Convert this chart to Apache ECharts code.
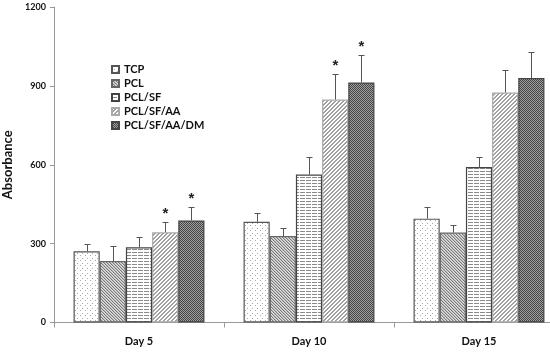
<!DOCTYPE html>
<html><head><meta charset="utf-8">
<script src="https://cdn.jsdelivr.net/npm/echarts@6/dist/echarts.min.js"></script>
<style>html,body{margin:0;padding:0;background:#fff}#c{width:550px;height:352px}</style>
</head><body><div id="c"></div>
<script>
const categories = ['Day 5', 'Day 10', 'Day 15'];
const seriesNames = ['TCP', 'PCL', 'PCL/SF', 'PCL/SF/AA', 'PCL/SF/AA/DM'];
const tcp = [271, 383, 395];
const pcl = [234, 329, 342];
const pclSf = [286, 563, 591];
const pclSfAa = [343, 848, 875];
const pclSfAaDm = [388, 913, 930];
const tcpErr = [27, 33, 44];
const pclErr = [56, 32, 28];
const pclSfErr = [41, 66, 40];
const pclSfAaErr = [38, 97, 85];
const pclSfAaDmErr = [51, 104, 99];
const tcpSig = [false, false, false];
const pclSig = [false, false, false];
const pclSfSig = [false, false, false];
const pclSfAaSig = [true, true, false];
const pclSfAaDmSig = [true, true, false];
const yTicks = [0, 300, 600, 900, 1200];

const values = [tcp, pcl, pclSf, pclSfAa, pclSfAaDm];
const errs = [tcpErr, pclErr, pclSfErr, pclSfAaErr, pclSfAaDmErr];
const sigs = [tcpSig, pclSig, pclSfSig, pclSfAaSig, pclSfAaDmSig];

function tile(w, h, bg, draw) {
  const c = document.createElement('canvas');
  c.width = w; c.height = h;
  const ctx = c.getContext('2d');
  ctx.fillStyle = bg; ctx.fillRect(0, 0, w, h);
  draw(ctx);
  return { image: c, repeat: 'repeat' };
}
function px(ctx, col, pts) { ctx.fillStyle = col; pts.forEach(p => ctx.fillRect(p[0], p[1], 1, 1)); }

const patterns = [
  tile(5, 5, '#ffffff', ctx => px(ctx, '#a8a8a8', [[0,0],[2,3]])),
  tile(3, 3, '#bdbdbd', ctx => { px(ctx, '#7a7a7a', [[0,0],[1,1],[2,2]]); px(ctx, '#e0e0e0', [[2,0],[0,1],[1,2]]); }),
  tile(6, 3, '#ffffff', ctx => px(ctx, '#8a8a8a', [[0,0],[1,0],[2,0],[3,0],[4,0]])),
  tile(4, 4, '#ffffff', ctx => px(ctx, '#a0a0a0', [[3,0],[2,1],[1,2],[0,3],[0,0],[3,1],[2,2],[1,3]])),
  tile(2, 2, '#a0a0a0', ctx => px(ctx, '#444', [[0,0],[1,1]]))
];
const borders = ['#555', '#666', '#444', '#aaa', '#444'];

const catGap = 0.23;
const series = seriesNames.map((name, i) => ({
  name, type: 'bar', data: values[i], barGap: '0%', barCategoryGap: (catGap * 100) + '%',
  itemStyle: { color: patterns[i], borderColor: borders[i], borderWidth: 1.2, borderRadius: 0 },
  emphasis: { disabled: true }, z: 2
}));

const errData = [];
for (let s = 0; s < 5; s++) for (let c = 0; c < 3; c++) errData.push([c, values[s][c], values[s][c] + errs[s][c], s, sigs[s][c] ? 1 : 0]);

series.push({
  type: 'custom', name: 'err', data: errData, z: 5, silent: true,
  renderItem: function (params, api) {
    const c = api.value(0), v = api.value(1), top = api.value(2), s = api.value(3), sig = api.value(4);
    const band = api.size([1, 0])[0];
    const group = band * (1 - catGap);
    const bw = group / 5;
    const center = api.coord([c, 0])[0];
    const x = Math.round(center - group / 2 + (s + 0.5) * bw) + 0.5;
    const y0 = api.coord([c, v])[1];
    const y1 = Math.round(api.coord([c, top])[1]) + 0.5;
    const st = { stroke: '#555', lineWidth: 1 };
    const children = [
      { type: 'line', shape: { x1: x, y1: y0, x2: x, y2: y1 }, style: st },
      { type: 'line', shape: { x1: x - 3, y1: y1, x2: x + 3, y2: y1 }, style: st }
    ];
    if (sig) children.push({ type: 'text', style: { text: '*', x: x, y: y1 - 1, align: 'center', verticalAlign: 'bottom', font: 'bold 15px "Liberation Sans"', fill: '#222' } });
    return { type: 'group', children };
  }
});

const chart = echarts.init(document.getElementById('c'), null, { renderer: 'canvas' });
chart.setOption({
  animation: false,
  backgroundColor: '#fff',
  grid: { left: 54, width: 510, top: 7, height: 315.5, containLabel: false, outerBoundsMode: 'none' },
  legend: {
    data: seriesNames.map(n => ({ name: n, icon: 'rect' })), orient: 'vertical', left: 106, top: 59,
    itemWidth: 7, itemHeight: 7, itemGap: 3,
    textStyle: { fontFamily: 'Lato', fontWeight: 'bold', fontSize: 11, color: '#111', lineHeight: 11 },
    selectedMode: false
  },
  xAxis: {
    type: 'category', data: categories,
    axisLine: { lineStyle: { color: '#999', width: 1 } },
    axisTick: { show: true, length: 5, lineStyle: { color: '#999' } },
    axisLabel: { fontFamily: 'Lato', fontWeight: 'bold', fontSize: 11, color: '#111', margin: 13 }
  },
  yAxis: {
    type: 'value', min: yTicks[0], max: yTicks[yTicks.length - 1], interval: 300,
    name: 'Absorbance', nameLocation: 'middle', nameGap: 30, nameRotate: 90,
    nameTextStyle: { fontFamily: 'Lato', fontWeight: 'bold', fontSize: 13, color: '#111' },
    axisLine: { show: true, lineStyle: { color: '#999', width: 1 } },
    axisTick: { show: true, length: 4, lineStyle: { color: '#999' } },
    axisLabel: { fontFamily: 'Lato', fontWeight: 'bold', fontSize: 9, color: '#111', margin: 8, formatter: v => String(v) },
    splitLine: { show: false }
  },
  series
});
</script></body></html>
